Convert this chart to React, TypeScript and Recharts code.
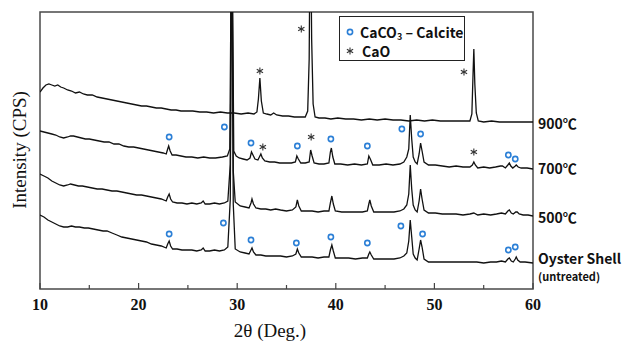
import React from 'react';
import { ComposedChart, Line, Scatter, XAxis, YAxis, ReferenceArea } from 'recharts';

// 2θ (deg) / intensity (arbitrary, offset traces)
const t900 = [
  [10, 197], [10.3, 201], [10.6, 204], [10.9, 205], [11.2, 204], [11.5, 203], [11.8, 204], [12.1, 202],
  [12.4, 201], [12.8, 199], [13.2, 198], [13.6, 196], [14.0, 197], [14.4, 195], [14.8, 194], [15.3, 194],
  [15.8, 192], [16.3, 191], [16.8, 190], [17.3, 189], [17.8, 188], [18.3, 187], [18.8, 186], [19.3, 185],
  [19.8, 184], [20.3, 183], [20.8, 183], [21.3, 182], [21.8, 181], [22.3, 181], [22.8, 180], [23.3, 179],
  [23.8, 179], [24.3, 178], [24.8, 178], [25.5, 178], [26.2, 177], [26.9, 177], [27.6, 176], [28.3, 177],
  [29.0, 176], [29.7, 176], [30.4, 175], [31.1, 176], [31.7, 175], [32.0, 177], [32.15, 190], [32.3, 211],
  [32.45, 188], [32.65, 176], [33.0, 175], [33.4, 174], [33.7, 176], [34.0, 174], [34.6, 173], [35.2, 173],
  [35.8, 172], [36.4, 172], [36.9, 172], [37.15, 178], [37.3, 230], [37.42, 400], [37.55, 250], [37.7, 185],
  [37.9, 172], [38.3, 171], [38.9, 171], [39.5, 170], [40.2, 171], [41, 170], [41.8, 170], [42.6, 169],
  [43.4, 170], [44.2, 169], [45, 170], [45.8, 169], [46.6, 169], [47.4, 168], [48.2, 169], [49, 168],
  [49.8, 169], [50.6, 168], [51.4, 168], [52.2, 168], [53, 168], [53.6, 168], [53.8, 175], [53.92, 215],
  [54.0, 240], [54.1, 205], [54.25, 176], [54.45, 168], [55, 167], [55.8, 168], [56.6, 167], [57.4, 167],
  [58.2, 167], [59, 167], [60, 167],
];

const t700 = [
  [10, 158], [10.4, 157], [10.8, 156], [11.2, 155], [11.6, 154], [12.0, 152], [12.4, 151], [12.8, 152],
  [13.1, 153], [13.4, 153], [13.8, 152], [14.2, 151], [14.6, 150], [15.0, 150], [15.5, 149], [16.0, 148],
  [16.5, 147], [17.0, 147], [17.5, 145], [18.0, 145], [18.5, 143], [19.0, 142], [19.5, 142], [20.0, 141],
  [20.5, 140], [21.0, 139], [21.5, 138], [22.0, 137], [22.5, 136], [22.8, 135], [22.95, 140], [23.05, 143],
  [23.2, 138], [23.4, 134], [23.8, 134], [24.3, 133], [24.8, 132], [25.4, 132], [26.0, 131], [26.6, 132],
  [27.2, 131], [27.8, 131], [28.5, 132], [29.0, 133], [29.25, 140], [29.45, 400], [29.65, 138],
  [29.9, 133], [30.2, 131], [30.6, 130], [31.0, 129], [31.3, 131], [31.45, 137], [31.6, 134], [31.8, 130],
  [32.1, 129], [32.3, 133], [32.4, 135], [32.55, 131], [32.8, 128], [33.3, 127], [33.8, 127], [34.3, 126],
  [34.9, 126], [35.5, 126], [35.9, 127], [36.05, 133], [36.2, 130], [36.45, 126], [36.9, 126], [37.3, 127],
  [37.45, 139], [37.6, 133], [37.8, 126], [38.3, 125], [38.8, 125], [39.3, 126], [39.45, 137], [39.55, 141],
  [39.7, 132], [39.9, 125], [40.5, 125], [41.2, 124], [41.9, 125], [42.6, 124], [43.2, 125], [43.35, 133],
  [43.5, 130], [43.75, 124], [44.4, 124], [45.1, 125], [45.8, 124], [46.5, 125], [46.9, 127], [47.2, 132],
  [47.4, 140], [47.55, 174], [47.7, 150], [47.85, 132], [48.05, 127], [48.25, 125], [48.45, 135], [48.6, 146],
  [48.75, 138], [48.95, 127], [49.4, 124], [50.1, 124], [50.8, 123], [51.5, 122], [52.2, 123], [52.9, 122],
  [53.6, 122], [53.85, 124], [54.0, 127], [54.15, 124], [54.4, 121], [55.0, 122], [55.6, 121], [56.2, 122],
  [56.7, 123], [56.9, 123], [57.2, 121], [57.45, 124], [57.6, 126], [57.75, 123], [57.95, 121], [58.2, 123],
  [58.3, 124], [58.5, 122], [58.8, 121], [59.4, 121], [60, 120],
];

const t500 = [
  [10, 115], [10.4, 113], [10.8, 111], [11.2, 108], [11.6, 106], [12.0, 104], [12.4, 103], [12.8, 104],
  [13.1, 105], [13.5, 104], [13.9, 103], [14.3, 103], [14.8, 102], [15.3, 101], [15.8, 100], [16.3, 100],
  [16.8, 99], [17.3, 98], [17.8, 98], [18.3, 97], [18.8, 96], [19.3, 95], [19.8, 94], [20.3, 94],
  [20.8, 93], [21.3, 92], [21.8, 91], [22.3, 90], [22.8, 88], [22.95, 92], [23.1, 95], [23.25, 90],
  [23.45, 87], [23.9, 86], [24.4, 86], [24.9, 85], [25.4, 86], [25.9, 85], [26.35, 86], [26.55, 88],
  [26.75, 85], [27.2, 85], [27.7, 86], [28.2, 85], [28.7, 86], [29.05, 88], [29.3, 125], [29.45, 400],
  [29.6, 118], [29.8, 87], [30.3, 83], [30.8, 82], [31.2, 81], [31.4, 86], [31.5, 90],
  [31.65, 85], [31.9, 81], [32.4, 80], [32.9, 80], [33.4, 79], [33.9, 80], [34.4, 79], [35.0, 78],
  [35.6, 79], [35.95, 82], [36.1, 89], [36.25, 83], [36.5, 78], [37.0, 78], [37.6, 78], [38.2, 77],
  [38.8, 78], [39.3, 78], [39.45, 86], [39.6, 93], [39.75, 85], [39.95, 78], [40.6, 77], [41.3, 77],
  [42.0, 77], [42.7, 77], [43.2, 78], [43.35, 85], [43.45, 89], [43.6, 83], [43.85, 77], [44.5, 77],
  [45.2, 77], [45.9, 77], [46.5, 78], [46.9, 80], [47.2, 84], [47.4, 95], [47.55, 124], [47.7, 100],
  [47.85, 84], [48.05, 79], [48.25, 77], [48.45, 88], [48.6, 100], [48.75, 90], [48.95, 79], [49.4, 76],
  [50.1, 76], [50.8, 75], [51.5, 75], [52.2, 75], [52.9, 74], [53.6, 75], [54.0, 76], [54.4, 74],
  [55.0, 75], [55.7, 74], [56.3, 75], [56.8, 76], [57.2, 75], [57.45, 78], [57.6, 79], [57.8, 76],
  [58.0, 75], [58.25, 77], [58.4, 77], [58.6, 75], [59.0, 74], [59.5, 74], [60, 73],
];

const tShell = [
  [10, 74], [10.4, 72], [10.8, 69], [11.2, 67], [11.6, 65], [12.0, 63], [12.4, 62], [12.8, 62],
  [13.2, 63], [13.6, 62], [14.0, 62], [14.5, 61], [14.9, 61], [15.4, 60], [15.9, 59], [16.4, 58],
  [16.8, 58], [17.3, 56], [17.8, 54], [18.3, 52], [18.8, 51], [19.3, 50], [19.8, 49], [20.3, 48],
  [20.8, 47], [21.3, 45], [21.8, 44], [22.3, 43], [22.8, 41], [22.95, 45], [23.1, 48], [23.25, 43],
  [23.45, 40], [23.9, 40], [24.4, 39], [24.9, 39], [25.4, 39], [25.9, 38], [26.35, 39], [26.55, 41],
  [26.75, 38], [27.2, 38], [27.7, 39], [28.2, 38], [28.7, 39], [29.05, 42], [29.3, 90], [29.45, 400],
  [29.6, 85], [29.8, 40], [30.3, 37], [30.8, 36], [31.2, 35], [31.4, 39], [31.5, 41],
  [31.65, 37], [31.9, 34], [32.4, 34], [32.9, 33], [33.4, 33], [33.9, 33], [34.4, 33], [35.0, 32],
  [35.6, 33], [35.95, 35], [36.1, 40], [36.25, 36], [36.5, 32], [37.0, 32], [37.6, 32], [38.2, 31],
  [38.8, 32], [39.3, 32], [39.45, 39], [39.6, 44], [39.75, 38], [39.95, 31], [40.6, 31], [41.3, 31],
  [42.0, 30], [42.7, 31], [43.2, 31], [43.35, 35], [43.45, 37], [43.6, 34], [43.85, 30], [44.5, 30],
  [45.2, 30], [45.9, 30], [46.5, 31], [46.9, 33], [47.2, 36], [47.4, 48], [47.55, 69], [47.7, 52],
  [47.85, 35], [48.05, 31], [48.25, 29], [48.45, 40], [48.6, 49], [48.75, 42], [48.95, 30], [49.4, 27],
  [50.1, 27], [50.8, 27], [51.5, 27], [52.2, 27], [52.9, 27], [53.6, 27], [54.3, 27], [55.0, 26],
  [55.7, 27], [56.3, 27], [56.8, 28], [57.2, 27], [57.45, 30], [57.6, 31], [57.8, 28], [58.0, 27],
  [58.2, 30], [58.3, 32], [58.45, 29], [58.7, 27], [59.2, 27], [60, 26],
];

// peak markers
const calciteMarks = [
  [23.1, 152], [28.7, 162], [31.4, 146], [36.1, 143], [39.5, 150], [43.2, 143], [46.7, 160], [48.6, 155],
  [57.5, 134], [58.2, 130],
  [23.1, 55], [28.6, 66], [31.4, 49], [36.0, 46], [39.5, 52], [43.2, 46], [46.6, 63], [48.8, 55],
  [57.5, 39], [58.2, 42],
];
const caoMarks = [[32.6, 142], [37.5, 152], [54.0, 137], [32.3, 218], [36.5, 260], [53.0, 217]];

const xTicks = [10, 15, 20, 25, 30, 35, 40, 45, 50, 55, 60];

const toPts = (arr: number[][]) => arr.map(([x, v]) => ({ x, v }));

const BLUE = '#2b7fd6';
const sans = '"Noto Sans CJK KR", "Noto Sans", sans-serif';
const serif = '"Liberation Serif", "Times New Roman", serif';

const Circle = (props: any) => (
  <circle cx={props.cx} cy={props.cy} r={2.6} fill="none" stroke={BLUE} strokeWidth={1.6} />
);

const Star = (props: any) => {
  const { cx, cy } = props;
  const r = 3.6;
  return (
    <g stroke="#333" strokeWidth={1.1}>
      <line x1={cx} y1={cy - r} x2={cx} y2={cy + r} />
      <line x1={cx - r * 0.87} y1={cy - r / 2} x2={cx + r * 0.87} y2={cy + r / 2} />
      <line x1={cx - r * 0.87} y1={cy + r / 2} x2={cx + r * 0.87} y2={cy - r / 2} />
    </g>
  );
};

const Tick = (props: any) => {
  const { x, y, payload } = props;
  const major = payload.value % 10 === 0;
  return (
    <g>
      <line x1={x} y1={y} x2={x} y2={y - (major ? 6 : 4)} stroke="#444" strokeWidth={1.2} />
      {major && (
        <text x={x} y={y + 21} textAnchor="middle" fontFamily={serif} fontWeight="bold" fontSize={16} fill="#111">
          {payload.value}
        </text>
      )}
    </g>
  );
};

const sideLabel: React.CSSProperties = {
  position: 'absolute', left: 538, fontFamily: sans, fontWeight: 700, fontSize: 14, color: '#111',
  lineHeight: '16px', whiteSpace: 'nowrap',
};

const App = () => {
  return (
    <div style={{ position: 'absolute', left: 0, top: 0, width: 629, height: 347, background: '#fff' }}>
      <ComposedChart width={629} height={347} margin={{ top: 12, right: 96, bottom: 28, left: 40 }}>
        <XAxis
          dataKey="x"
          type="number"
          domain={[10, 60]}
          ticks={xTicks}
          height={30}
          axisLine={false}
          tickLine={false}
          tickSize={0}
          tickMargin={0}
          tick={<Tick />}
          allowDataOverflow
        />
        <YAxis type="number" domain={[0, 277]} hide allowDataOverflow />
        <Line data={toPts(t900)} dataKey="v" stroke="#111" strokeWidth={1.3} dot={false} isAnimationActive={false} />
        <Line data={toPts(t700)} dataKey="v" stroke="#111" strokeWidth={1.3} dot={false} isAnimationActive={false} />
        <Line data={toPts(t500)} dataKey="v" stroke="#111" strokeWidth={1.3} dot={false} isAnimationActive={false} />
        <Line data={toPts(tShell)} dataKey="v" stroke="#111" strokeWidth={1.3} dot={false} isAnimationActive={false} />
        <Scatter data={toPts(calciteMarks)} dataKey="v" shape={<Circle />} isAnimationActive={false} />
        <Scatter data={toPts(caoMarks)} dataKey="v" shape={<Star />} isAnimationActive={false} />
        <ReferenceArea x1={10} x2={60} y1={0} y2={277} fill="none" stroke="#4a4a4a" strokeWidth={1.5} ifOverflow="visible" />
      </ComposedChart>

      {/* legend */}
      <div style={{
        position: 'absolute', left: 339, top: 16, width: 124, height: 43, border: '1.5px solid #222',
        fontFamily: sans, fontWeight: 700, fontSize: 14, color: '#111',
      }}>
        <svg width={20} height={43} style={{ position: 'absolute', left: 0, top: 0 }}>
          <circle cx={10} cy={15} r={2.6} fill="none" stroke={BLUE} strokeWidth={1.6} />
          <Star cx={10} cy={34} />
        </svg>
        <div style={{ position: 'absolute', left: 20, top: 6, lineHeight: '18px', whiteSpace: 'nowrap' }}>
          CaCO<sub style={{ fontSize: 9, verticalAlign: -2 }}>3</sub> – Calcite
        </div>
        <div style={{ position: 'absolute', left: 22, top: 25, lineHeight: '18px' }}>CaO</div>
      </div>

      <div style={{ ...sideLabel, top: 115 }}>900℃</div>
      <div style={{ ...sideLabel, top: 160 }}>700℃</div>
      <div style={{ ...sideLabel, top: 209 }}>500℃</div>
      <div style={{ ...sideLabel, top: 250 }}>Oyster Shell</div>
      <div style={{ ...sideLabel, top: 268, fontSize: 11 }}>(untreated)</div>

      <div style={{
        position: 'absolute', left: 20, top: 150, transform: 'translate(-50%, -50%) rotate(-90deg)',
        fontFamily: serif, fontSize: 19, color: '#111', whiteSpace: 'nowrap',
      }}>
        Intensity (CPS)
      </div>
      <div style={{
        position: 'absolute', left: 270, top: 331, transform: 'translate(-50%, -50%)',
        fontFamily: serif, fontSize: 19, color: '#111', whiteSpace: 'nowrap',
      }}>
        2θ (Deg.)
      </div>
    </div>
  );
};

export default App;
